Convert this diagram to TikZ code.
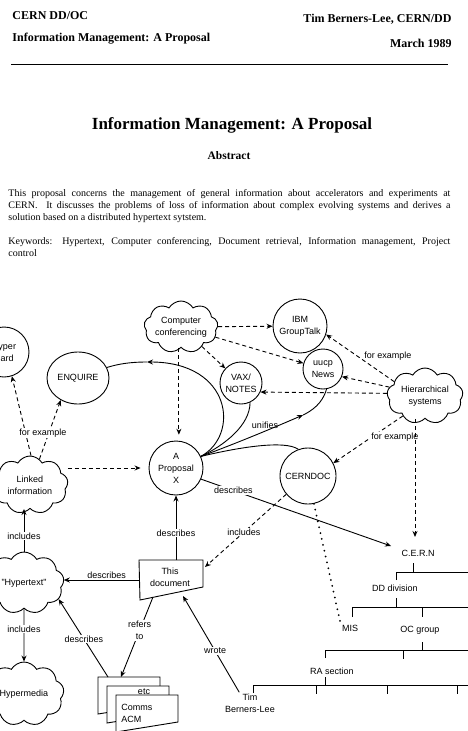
\documentclass[tikz,border=0pt]{standalone}
\usepackage{fontspec}
\setmainfont{Liberation Serif}
\newfontfamily\plotfont{Liberation Sans}
\usetikzlibrary{arrows.meta}
\usetikzlibrary{shapes.geometric,shapes.symbols}
\usetikzlibrary{positioning,calc}

\tikzset{
	txt/.style={font=\plotfont\fontsize{9}{12}\selectfont, align=center, inner sep=1pt},
	lbl/.style={txt, fill=white},
	ov/.style={txt, draw, circle, inner sep=0pt},
	puff/.style={draw, cloud, cloud puffs=9, cloud puff arc=120, cloud ignores aspect, inner sep=0pt},
	dotty/.style={line width=2pt, line cap=round, dash pattern=on 0pt off 6pt},
	dashed/.style={dash pattern=on 4pt off 3pt},
}

\begin{document}
\begin{tikzpicture}[x=1pt, y=-1pt, line width=0.9pt, >={Stealth[length=6pt,width=5pt]}]
	\fill[white] (0,0) rectangle (468,731);
	\useasboundingbox (0,0) rectangle (468,731);

	% header of the page
	\node[anchor=base west, inner sep=0pt, font=\fontsize{12}{14}\selectfont\bfseries] (org) at (12,19) {CERN DD/OC};
	\node[anchor=base west, inner sep=0pt, font=\fontsize{12}{14}\selectfont\bfseries] (sub) at (12,41) {Information Management: A Proposal};
	\node[anchor=base east, inner sep=0pt, font=\fontsize{12}{14}\selectfont\bfseries] (auth) at (452,22) {Tim Berners-Lee, CERN/DD};
	\node[anchor=base east, inner sep=0pt, font=\fontsize{12}{14}\selectfont\bfseries] (date) at (452,47) {March 1989};
	\draw[line width=0.8pt] (11,64) -- (448,64);
	\node[anchor=base, inner sep=0pt, font=\fontsize{17}{20}\selectfont\bfseries] (title) at (232,129) {Information Management: A Proposal};
	\node[anchor=base, inner sep=0pt, font=\fontsize{11.5}{14}\selectfont\bfseries] (abs) at (229,159) {Abstract};
	\node[anchor=base west, inner sep=0pt, text width=442pt, align=justify, font=\fontsize{10}{12}\selectfont] (para) at (8,196)
		{This proposal concerns the management of general information about accelerators and experiments at\linebreak
		CERN.\ \ It discusses the problems of loss of information about complex evolving systems and derives a\linebreak
		solution based on a distributed hypertext sytstem.};
	\node[anchor=base west, inner sep=0pt, text width=442pt, align=justify, font=\fontsize{10}{12}\selectfont] (keys) at (8,244)
		{Keywords: Hypertext, Computer conferencing, Document retrieval, Information management, Project\linebreak
		control};

	% bubbles
	\node[ov, minimum size=50pt] (card) at (4,352) {Hyper\\Card};
	\node[ov, ellipse, minimum width=62pt, minimum height=52pt] (enquire) at (78,378) {ENQUIRE};
	\node[puff, minimum width=74pt, minimum height=52pt] (confer) at (181,327) {};
	\node[txt] at (confer) {Computer\\conferencing};
	\node[ov, minimum size=54pt] (ibm) at (300,326) {IBM\\GroupTalk};
	\node[ov, minimum size=40pt] (uucp) at (323,369) {uucp\\News};
	\node[ov, minimum size=42pt] (vax) at (241,383) {VAX/\\NOTES};
	\node[puff, minimum width=76pt, minimum height=56pt] (hier) at (425,396) {};
	\node[txt] at (hier) {Hierarchical\\systems};
	\node[ov, minimum size=54pt] (prop) at (176,468) {A\\Proposal\\X};
	\node[puff, minimum width=76pt, minimum height=58pt] (linked) at (30,485) {};
	\node[txt] at (linked) {Linked\\information};
	\node[ov, minimum size=56pt] (cerndoc) at (308,476) {CERNDOC};
	\node[puff, minimum width=80pt, minimum height=62pt] (hypertext) at (24,583) {};
	\node[txt] at (hypertext) {"Hypertext"};
	\node[puff, minimum width=80pt, minimum height=64pt] (hypermedia) at (24,694) {};
	\node[txt] at (hypermedia) {Hypermedia};

	% this document
	\draw[fill=white] (139,560) -- (203,560) -- (203,587) -- (140,600) -- cycle;
	\node[txt] (doc) at (170,577) {This\\document};
	\coordinate (docN) at (176,560);
	\coordinate (docW) at (139,580);
	\coordinate (docE) at (205,567);
	\coordinate (docS) at (153,597);
	\coordinate (docT) at (183,596);

	% papers
	\draw[fill=white] (98,677) -- ++(62,0) -- ++(0,27) -- ++(-62,10) -- cycle;
	\draw[fill=white] (107,686) -- ++(62,0) -- ++(0,27) -- ++(-62,10) -- cycle;
	\node[txt] (etc) at (144,692) {etc};
	\draw[fill=white] (116,695) -- ++(62,0) -- ++(0,27) -- ++(-62,10) -- cycle;
	\node[txt, align=left, anchor=west] (acm) at (120,713) {Comms\\ACM};
	\coordinate (stkA) at (121,677);
	\coordinate (stkB) at (108,677);

	% organisation
	\node[txt] (cern) at (418,553) {C.E.R.N};
	\node[txt] (dd) at (395,588) {DD division};
	\node[txt] (mis) at (350,628) {MIS};
	\node[txt] (oc) at (420,630) {OC group};
	\node[txt] (ra) at (332,671) {RA section};
	\node[txt] (tim) at (250,703) {Tim\\Berners-Lee};
	\coordinate (cernIn) at (415,537);
	\begin{scope}[line width=0.8pt]
		\draw (413,563) -- (413,572) (396,580) -- (396,572) -- (470,572);
		\draw (396,598) -- (396,607) (352,617) -- (352,607) -- (470,607) (422,607) -- (422,617);
		\draw (422,642) -- (422,650) (325,658) -- (325,650) -- (470,650) (403,650) -- (403,659);
		\draw (325,677) -- (325,685) (253,693) -- (253,685) -- (470,685);
		\foreach \x in {316,387,457}
			\draw (\x,685) -- (\x,694);
	\end{scope}

	% conferencing
	\draw[dashed,->] (confer) -- (ibm);
	\draw[dashed,->] (confer) -- (uucp);
	\draw[dashed,->] (confer) -- (vax);
	\draw[dashed,->,shorten >=6pt] (prop.84 |- confer.south) -- (prop.84);

	% hierarchical
	\draw[dashed,->] (hier.155) -- (ibm.-18);
	\draw[dashed,->] (hier.166) -- (uucp.-22);
	\draw[dashed,->] (hier.176) -- (vax.-25);
	\node[txt] at (388,356) {for example};
	\draw[dashed,->] (hier.222) -- (cerndoc.27);
	\node[lbl] at (395,437) {for example};
	\draw[dashed,->] (hier.south -| cernIn) -- (cernIn);

	% unifies
	\coordinate (enqArr) at (147,362);
	\coordinate (uucpArr) at (303,415);
	\draw[->] (prop.25) .. controls (240,435) and (232,362) .. (enqArr);
	\draw (enqArr) .. controls (130,362) and (118,364) .. (enquire.20);
	\draw (prop.25) .. controls (225,445) and (250,425) .. (vax.-65);
	\draw[->] (prop.25) .. controls (240,442) and (280,425) .. (uucpArr);
	\draw (uucpArr) .. controls (318,408) and (324,398) .. (uucp.-80);
	\draw (prop.25) .. controls (240,447) and (285,440) .. (cerndoc.110);
	\node[txt] at (265,425) {unifies};

	\draw[->] (prop.-24) -- node[lbl, pos=0.17] {describes} ($(cern.west)+(-9,-7)$);

	% linked information
	\draw[dashed,->,shorten >=8pt] (linked.east |- prop.west) -- (prop.west);
	\draw[dashed,->] (linked.88) -- (card.-72);
	\draw[dashed,->] (linked.70) -- (enquire.-128);
	\node[lbl] at (43,433) {for example};
	\draw[->] (hypertext.north) -- node[lbl, pos=0.37] {includes} (hypertext.north |- linked.south);
	\draw[->] (hypertext.south) -- node[lbl, pos=0.38] {includes} (hypermedia.north);

	% document links
	\draw[->] (docW) -- node[txt, above, pos=0.43] {describes} (hypertext.east |- docW);
	\draw[->] (docN) -- node[lbl, pos=0.42] {describes} (prop.south);
	\draw[dashed,->] (cerndoc.-140) -- node[lbl, pos=0.52] {includes} (docE);
	\draw[dotty] (cerndoc.-78) -- (mis.north west);
	\draw[->] (docS) -- node[lbl, pos=0.42] {refers\\to} (stkA);
	\draw[->] (stkB) -- node[lbl, pos=0.49] {describes} (hypertext.-25);
	\draw[->] (tim.135) -- node[lbl, pos=0.43] {wrote} (docT);
\end{tikzpicture}
\end{document}
